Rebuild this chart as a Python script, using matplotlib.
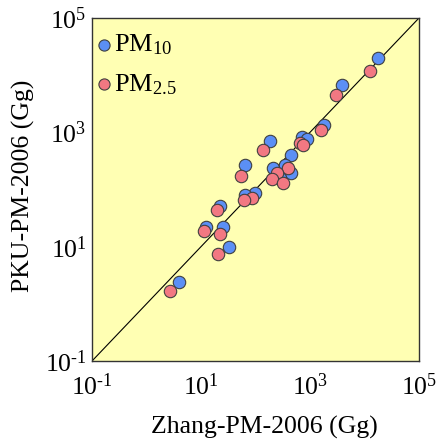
import matplotlib
matplotlib.use("Agg")
import matplotlib.pyplot as plt
import numpy as np

plt.rcParams['font.family'] = ['Liberation Serif']
plt.rcParams['mathtext.fontset'] = 'custom'
plt.rcParams['mathtext.rm'] = 'Liberation Serif'
plt.rcParams['mathtext.it'] = 'Liberation Serif:italic'

# log10 values
pm10_logx = [4.25, 3.59, 3.25, 2.86, 2.94, 2.27, 1.80, 2.66, 2.33, 2.66, 2.55, 2.45, 2.00, 1.81, 1.34, 1.09, 1.41, 1.51, 0.60]
pm10_logy = [4.30, 3.82, 3.13, 2.91, 2.88, 2.85, 2.42, 2.60, 2.37, 2.28, 2.43, 2.20, 1.94, 1.90, 1.72, 1.35, 1.35, 1.00, 0.38]
pm25_logx = [4.11, 3.47, 3.20, 2.82, 2.88, 2.14, 1.74, 2.60, 2.39, 2.30, 2.50, 1.94, 1.78, 1.30, 1.05, 1.34, 1.32, 0.43]
pm25_logy = [4.08, 3.66, 3.04, 2.81, 2.78, 2.69, 2.24, 2.38, 2.28, 2.18, 2.12, 1.86, 1.82, 1.64, 1.28, 1.22, 0.87, 0.22]

pm10_x = 10 ** np.array(pm10_logx)
pm10_y = 10 ** np.array(pm10_logy)
pm25_x = 10 ** np.array(pm25_logx)
pm25_y = 10 ** np.array(pm25_logy)

lims = [0.1, 1e5]
ticks = [0.1, 10, 1000, 1e5]
ticklabels = [r'$10^{\text{-}1}$', r'$10^{1}$', r'$10^{3}$', r'$10^{5}$']

fig = plt.figure(figsize=(4.39, 4.48), dpi=100)
ax = fig.add_axes([0.2096, 0.1942, 0.7448, 0.7656])
ax.set_facecolor('#FFFFB3')
ax.set_xscale('log')
ax.set_yscale('log')
ax.set_xlim(lims)
ax.set_ylim(lims)
ax.plot(lims, lims, color='black', lw=0.8, zorder=1)

ax.scatter(pm10_x, pm10_y, s=80, color='#5B8FF5', edgecolor='#404040', linewidth=0.8, zorder=2, label=r'PM$_{10}$')
ax.scatter(pm25_x, pm25_y, s=80, color='#F27882', edgecolor='#404040', linewidth=0.8, zorder=3, label=r'PM$_{2.5}$')

ax.set_xticks(ticks)
ax.set_yticks(ticks)
ax.set_xticklabels(ticklabels, fontsize=18.5)
ax.set_yticklabels(ticklabels, fontsize=18.5)
ax.minorticks_off()
ax.tick_params(axis='x', length=0, pad=9)
ax.tick_params(axis='y', length=0, pad=4)
for sp in ax.spines.values():
    sp.set_color('#333333')
    sp.set_linewidth(1.0)

ax.set_xlabel('Zhang-PM-2006 (Gg)', fontsize=18.5)
ax.xaxis.set_label_coords(0.527, -0.16)
ax.set_ylabel('PKU-PM-2006 (Gg)', fontsize=18.5)
ax.yaxis.set_label_coords(-0.175, 0.51)

leg = ax.legend(loc='upper left', bbox_to_anchor=(-0.012, 0.972), frameon=False, fontsize=19,
                handletextpad=0.0, borderaxespad=0.0, borderpad=0.2, labelspacing=0.55,
                markerscale=0.9, handlelength=0.8)

fig.savefig('out.png', dpi=100)
